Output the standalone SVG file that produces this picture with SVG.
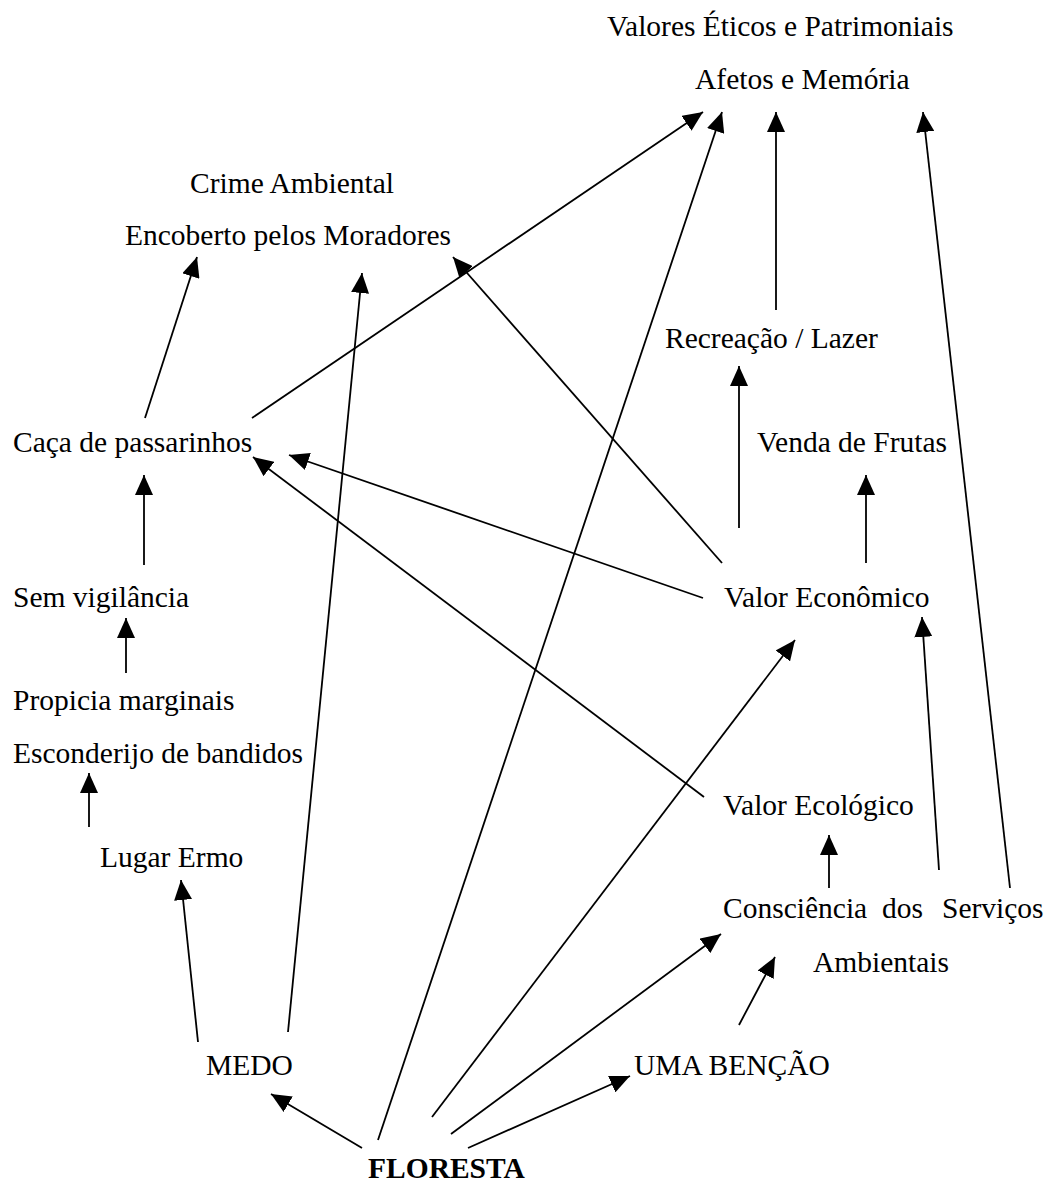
<svg xmlns="http://www.w3.org/2000/svg" width="1059" height="1183" viewBox="0 0 1059 1183">
<style>
text{font-family:"Liberation Serif","Times New Roman",serif;font-size:29.5px;fill:#000}
.b{font-weight:bold}
#edges line{stroke:#000;stroke-width:1.8;marker-end:url(#ah)}
</style>
<defs>
<marker id="ah" markerUnits="userSpaceOnUse" markerWidth="20" markerHeight="18" refX="20" refY="9" orient="auto">
<path d="M0,0 L20,9 L0,18 z" fill="#000"/>
</marker>
</defs>
<rect width="1059" height="1183" fill="#fff"/>
<g id="edges">
<line x1="252" y1="418" x2="703" y2="112"/>
<line x1="378" y1="1140" x2="722" y2="112"/>
<line x1="776" y1="310" x2="776" y2="112"/>
<line x1="1010" y1="888" x2="923" y2="112"/>
<line x1="145" y1="418" x2="197" y2="257"/>
<line x1="288" y1="1032" x2="362" y2="273"/>
<line x1="722" y1="563" x2="453" y2="257"/>
<line x1="739" y1="528" x2="739" y2="366"/>
<line x1="866" y1="563" x2="866" y2="475"/>
<line x1="703" y1="598" x2="289" y2="455"/>
<line x1="704" y1="797" x2="253" y2="457"/>
<line x1="144" y1="565" x2="144" y2="475"/>
<line x1="126" y1="673" x2="126" y2="618"/>
<line x1="89" y1="827" x2="89" y2="773"/>
<line x1="198" y1="1042" x2="181" y2="880"/>
<line x1="362" y1="1148" x2="271" y2="1094"/>
<line x1="432" y1="1117" x2="795" y2="640"/>
<line x1="451" y1="1134" x2="721" y2="934"/>
<line x1="739" y1="1025" x2="775" y2="957"/>
<line x1="468" y1="1148" x2="630" y2="1076"/>
<line x1="829" y1="888" x2="829" y2="835"/>
<line x1="939" y1="870" x2="922" y2="617"/>
</g>
<g id="n-valores"><text x="607" y="36">Valores Éticos e Patrimoniais</text></g>
<g id="n-afetos"><text x="695" y="89">Afetos e Memória</text></g>
<g id="n-crime"><text x="190" y="193">Crime Ambiental</text></g>
<g id="n-encoberto"><text x="125" y="245">Encoberto pelos Moradores</text></g>
<g id="n-recreacao"><text x="665" y="348">Recreação / Lazer</text></g>
<g id="n-caca"><text x="13" y="452">Caça de passarinhos</text></g>
<g id="n-venda"><text x="757" y="452">Venda de Frutas</text></g>
<g id="n-economico"><text x="724" y="607">Valor Econômico</text></g>
<g id="n-sem"><text x="13" y="607">Sem vigilância</text></g>
<g id="n-propicia"><text x="13" y="710">Propicia marginais</text></g>
<g id="n-esconderijo"><text x="13" y="763">Esconderijo de bandidos</text></g>
<g id="n-lugar"><text x="100" y="867">Lugar Ermo</text></g>
<g id="n-ecologico"><text x="723" y="815">Valor Ecológico</text></g>
<g id="n-consciencia"><text y="918"><tspan x="723">Consciência</tspan><tspan x="882">dos</tspan><tspan x="942">Serviços</tspan></text><text x="813" y="972">Ambientais</text></g>
<g id="n-medo"><text x="206" y="1075">MEDO</text></g>
<g id="n-bencao"><text x="634" y="1075">UMA BENÇÃO</text></g>
<g id="n-floresta"><text class="b" x="368" y="1178">FLORESTA</text></g>
</svg>
